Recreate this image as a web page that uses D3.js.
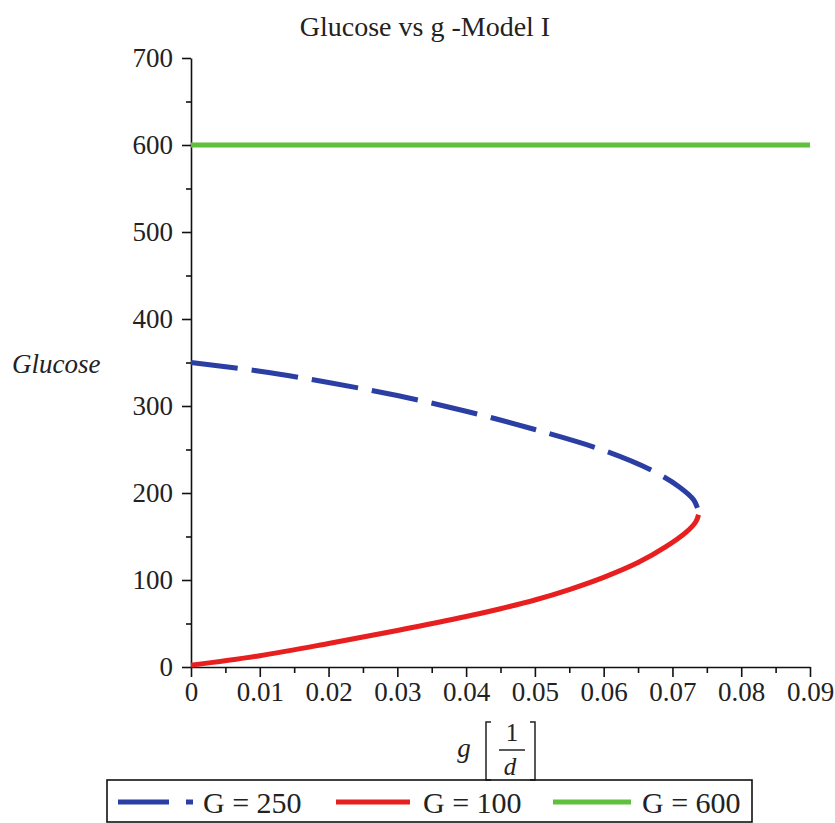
<!DOCTYPE html>
<html>
<head>
<meta charset="utf-8">
<script src="https://cdn.jsdelivr.net/npm/d3@7"></script>
<style>
  body { margin: 0; background: #fff; }
  text { font-family: "Liberation Serif", "Times New Roman", serif; fill: #222; }
</style>
</head>
<body>
<div id="chart"></div>
<script>
// data
const gTicks = [0, 0.01, 0.02, 0.03, 0.04, 0.05, 0.06, 0.07, 0.08, 0.09];
const glucoseTicks = [0, 100, 200, 300, 400, 500, 600, 700];

// G = 100 branch (lower, solid red)
const gRed = [0, 0.01, 0.02, 0.03, 0.04, 0.045, 0.05, 0.055, 0.06, 0.065, 0.069, 0.072, 0.0734, 0.0738];
const glucoseRed = [2, 13, 27, 42, 58, 67, 77, 89, 103, 120, 138, 155, 167, 175];
// G = 250 branch (upper, dashed blue)
const gBlue = [0.0738, 0.0731, 0.071, 0.067, 0.06, 0.05, 0.04, 0.03, 0.02, 0.01, 0];
const glucoseBlue = [179, 192, 207, 226, 249, 273, 294, 312, 327, 340, 350];
// G = 600 (flat green)
const gGreen = [0, 0.09];
const glucoseGreen = [600, 600];

const legendLabels = ['G = 250', 'G = 100', 'G = 600'];
const colors = { blue: '#2b3ea3', red: '#e81f1f', green: '#5ec03c' };

const width = 835, height = 823;
const svg = d3.select('#chart').append('svg')
  .attr('width', width)
  .attr('height', height);

const x = d3.scaleLinear().domain([0, 0.09]).range([191, 810]);
const y = d3.scaleLinear().domain([0, 700]).range([667, 58]);

// title
svg.append('text')
  .attr('x', 425).attr('y', 36)
  .style('font-size', '28px')
  .style('text-anchor', 'middle')
  .text('Glucose vs g -Model I');

// minor ticks
const xMinor = d3.range(0.005, 0.09, 0.01);
const yMinor = d3.range(50, 700, 100);

const xAxis = svg.append('g')
  .attr('transform', 'translate(0,' + y(0) + ')')
  .call(d3.axisBottom(x).tickValues(gTicks).tickSize(10).tickSizeOuter(0)
    .tickFormat(d => d === 0 ? '0' : d3.format('.2f')(d)));
svg.append('g')
  .attr('transform', 'translate(0,' + y(0) + ')')
  .call(d3.axisBottom(x).tickValues(xMinor).tickSize(6).tickFormat(''))
  .call(g => g.select('.domain').remove());

const yAxis = svg.append('g')
  .attr('transform', 'translate(' + x(0) + ',0)')
  .call(d3.axisLeft(y).tickValues(glucoseTicks).tickSize(9).tickSizeOuter(0));
svg.append('g')
  .attr('transform', 'translate(' + x(0) + ',0)')
  .call(d3.axisLeft(y).tickValues(yMinor).tickSize(5).tickFormat(''))
  .call(g => g.select('.domain').remove());

svg.selectAll('.domain, .tick line').attr('stroke', '#111').attr('stroke-width', 1.6);
xAxis.selectAll('.tick text')
  .style('font-size', '27px')
  .attr('y', 15);
yAxis.selectAll('.tick text')
  .style('font-size', '27px')
  .attr('x', -18);
svg.selectAll('.tick text').style('font-family', '"Liberation Serif", serif').attr('fill', '#222');

// axis labels
svg.append('text')
  .attr('x', 12).attr('y', 373)
  .style('font-size', '27px')
  .style('font-style', 'italic')
  .text('Glucose');

const xl = svg.append('g');
xl.append('text').attr('x', 464).attr('y', 757)
  .style('font-size', '27px').style('font-style', 'italic').style('text-anchor', 'middle').text('g');
xl.append('text').attr('x', 512).attr('y', 741)
  .style('font-size', '25px').style('text-anchor', 'middle').text('1');
xl.append('line').attr('x1', 499).attr('x2', 525).attr('y1', 750).attr('y2', 750)
  .attr('stroke', '#222').attr('stroke-width', 1.5);
xl.append('text').attr('x', 510).attr('y', 775)
  .style('font-size', '25px').style('font-style', 'italic').style('text-anchor', 'middle').text('d');
xl.append('path').attr('d', 'M491,722 H486 V780 H491').attr('fill', 'none').attr('stroke', '#222').attr('stroke-width', 1.5);
xl.append('path').attr('d', 'M530,722 H535 V780 H530').attr('fill', 'none').attr('stroke', '#222').attr('stroke-width', 1.5);

// curves
const line = d3.line()
  .x(d => x(d[0]))
  .y(d => y(d[1]))
  .curve(d3.curveCatmullRom);

svg.append('path')
  .datum(d3.zip(gGreen, glucoseGreen))
  .attr('d', line)
  .attr('fill', 'none')
  .attr('stroke', colors.green)
  .attr('stroke-width', 5);

svg.append('path')
  .datum(d3.zip(gRed, glucoseRed))
  .attr('d', line)
  .attr('fill', 'none')
  .attr('stroke', colors.red)
  .attr('stroke-width', 5);

svg.append('path')
  .datum(d3.zip(gBlue, glucoseBlue).reverse())
  .attr('d', line)
  .attr('fill', 'none')
  .attr('stroke', colors.blue)
  .attr('stroke-width', 5)
  .attr('stroke-dasharray', '47,14');

// legend
const lg = svg.append('g');
lg.append('rect')
  .attr('x', 107).attr('y', 780)
  .attr('width', 645).attr('height', 42)
  .attr('fill', 'none').attr('stroke', '#111').attr('stroke-width', 1.6);

const ly = 802;
lg.append('line').attr('x1', 118).attr('x2', 169).attr('y1', ly).attr('y2', ly)
  .attr('stroke', colors.blue).attr('stroke-width', 5);
lg.append('line').attr('x1', 186).attr('x2', 193).attr('y1', ly).attr('y2', ly)
  .attr('stroke', colors.blue).attr('stroke-width', 5);
lg.append('line').attr('x1', 336).attr('x2', 410).attr('y1', ly).attr('y2', ly)
  .attr('stroke', colors.red).attr('stroke-width', 5);
lg.append('line').attr('x1', 553).attr('x2', 631).attr('y1', ly).attr('y2', ly)
  .attr('stroke', colors.green).attr('stroke-width', 5);

const legendX = [203, 423, 642];
lg.selectAll('text.leg')
  .data(legendLabels)
  .enter().append('text')
  .attr('class', 'leg')
  .attr('x', (d, i) => legendX[i])
  .attr('y', 813)
  .style('font-size', '30px')
  .text(d => d);
</script>
</body>
</html>
